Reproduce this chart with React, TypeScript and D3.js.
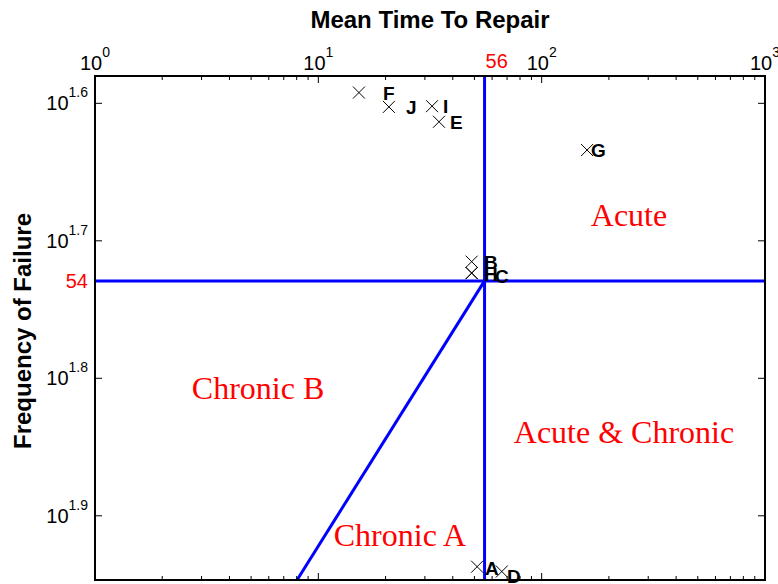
import React from "react";
import * as d3 from "d3";

// ---- data ----
const pointNames = ["A", "B", "C", "D", "E", "F", "G", "H", "I", "J"];
const pointMttr = [51.4, 48.6, 48.6, 66.3, 34.7, 15.2, 159.7, 48.6, 32.3, 20.7];
const pointFreq = [86.5, 51.9, 52.9, 87.2, 41.06, 39.1, 43.05, 52.9, 40.0, 40.05];
// where each label's text starts (in MTTR units) and its frequency position
const labelMttr = [55.8, 55.2, 61.8, 70.0, 38.9, 19.5, 166.3, 55.2, 36.2, 24.7];
const labelFreq = [86.7, 51.9, 53.2, 87.8, 41.06, 39.1, 43.05, 53.0, 40.0, 40.05];

const xTickExps = [0, 1, 2, 3];
const yTickExps = ["1.6", "1.7", "1.8", "1.9"];
const xDomain = [1, 1000];
const yDomain = [38.03, 88.45];

const mttrThreshold = 55.5;
const freqThreshold = 53.6;
const diagonalStart = { mttr: 55.5, freq: 53.6 };
const diagonalEnd = { mttr: 8.03, freq: 88.45 };

const regionNames = ["Acute", "Chronic B", "Acute & Chronic", "Chronic A"];
const regionMttr = [246, 5.37, 233.7, 23.2];
const regionFreq = [48.0, 64.1, 69.0, 82.0];

const titleText = "Mean Time To Repair";
const yLabelText = "Frequency of Failure";

export default function App() {
  const left = 95, right = 765, top = 76, bottom = 580;
  const x = d3.scaleLog().domain(xDomain).range([left, right]);
  const y = d3.scaleLog().domain(yDomain).range([top, bottom]);

  const minorX: number[] = [];
  for (let e = 0; e < 3; e++) for (let m = 2; m <= 9; m++) minorX.push(m * Math.pow(10, e));

  const majorLen = 7, minorLen = 4;
  const tickColor = "#000";

  return (
    <svg width={778} height={584} style={{ position: "absolute", left: 0, top: 0, background: "#fff" }}
      fontFamily="Arial, 'Liberation Sans', sans-serif">
      <rect x={0} y={0} width={778} height={584} fill="#fff" />
      {/* title */}
      <text x={430} y={28} textAnchor="middle" fontWeight="bold" fontSize={24}>{titleText}</text>
      <text transform={`translate(31,331) rotate(-90)`} textAnchor="middle" fontWeight="bold" fontSize={24}>{yLabelText}</text>

      {/* blue partition lines */}
      <g stroke="#0000ff" strokeWidth={3}>
        <line x1={x(mttrThreshold)} x2={x(mttrThreshold)} y1={top} y2={bottom} />
        <line x1={left} x2={right} y1={y(freqThreshold)} y2={y(freqThreshold)} />
        <line x1={x(diagonalStart.mttr)} y1={y(diagonalStart.freq)} x2={x(diagonalEnd.mttr)} y2={y(diagonalEnd.freq)} />
      </g>

      {/* region labels */}
      {regionNames.map((n, i) => (
        <text key={n} x={x(regionMttr[i])} y={y(regionFreq[i])} textAnchor="middle" dominantBaseline="central"
          fill="#ff0000" fontFamily="'Times New Roman', 'Liberation Serif', serif" fontSize={32}>{n}</text>
      ))}

      {/* points */}
      {pointNames.map((n, i) => {
        const cx = x(pointMttr[i]), cy = y(pointFreq[i]);
        const s = 6;
        return (
          <path key={n} d={`M${cx - s},${cy - s}L${cx + s},${cy + s}M${cx - s},${cy + s}L${cx + s},${cy - s}`} stroke="#000" strokeWidth={1} fill="none" />
        );
      })}
      {pointNames.map((n, i) => (
        <text key={"l" + n} x={x(labelMttr[i])} y={y(labelFreq[i]) + 7} fontWeight="bold" fontSize={19}>{n}</text>
      ))}

      {/* frame */}
      <rect x={left} y={top} width={right - left} height={bottom - top} fill="none" stroke="#000" strokeWidth={2} />

      {/* ticks */}
      <g stroke={tickColor} strokeWidth={1}>
        {xTickExps.map((e) => {
          const px = x(Math.pow(10, e));
          return (
            <g key={"xt" + e}>
              <line x1={px} x2={px} y1={top} y2={top + majorLen} />
              <line x1={px} x2={px} y1={bottom} y2={bottom - majorLen} />
            </g>
          );
        })}
        {minorX.map((v) => (
          <g key={"xm" + v}>
            <line x1={x(v)} x2={x(v)} y1={top} y2={top + minorLen} />
            <line x1={x(v)} x2={x(v)} y1={bottom} y2={bottom - minorLen} />
          </g>
        ))}
        {yTickExps.map((e) => {
          const py = y(Math.pow(10, +e));
          return (
            <g key={"yt" + e}>
              <line x1={left} x2={left + majorLen} y1={py} y2={py} />
              <line x1={right} x2={right - majorLen} y1={py} y2={py} />
            </g>
          );
        })}
      </g>

      {/* x tick labels */}
      {xTickExps.map((e) => (
        <text key={"xl" + e} x={x(Math.pow(10, e))} y={70} textAnchor="middle" fontSize={20}>
          10<tspan dy={-13} fontSize={14}>{e}</tspan>
        </text>
      ))}
      <text x={x(mttrThreshold) + 1} y={68} fill="#ff0000" fontSize={20}>{Math.round(mttrThreshold)}</text>

      {/* y tick labels */}
      {yTickExps.map((e) => (
        <text key={"yl" + e} x={88} y={y(Math.pow(10, +e)) + 7} textAnchor="end" fontSize={20}>
          10<tspan dy={-13} fontSize={14}>{e}</tspan>
        </text>
      ))}
      <text x={88} y={y(freqThreshold) + 7} textAnchor="end" fill="#ff0000" fontSize={20}>{Math.round(freqThreshold)}</text>
    </svg>
  );
}
